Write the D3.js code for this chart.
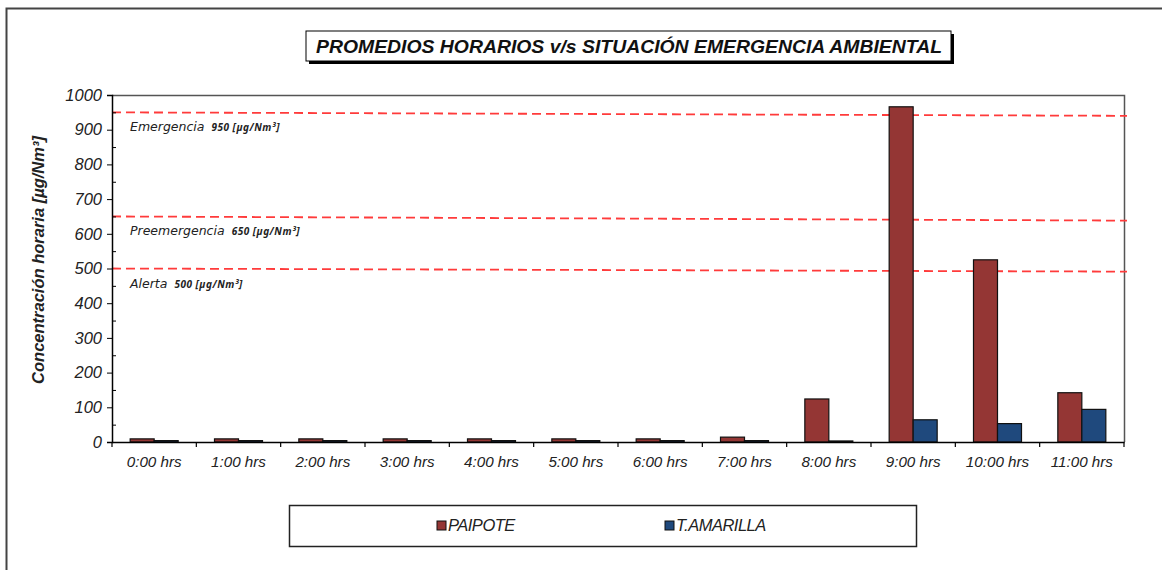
<!DOCTYPE html>
<html><head><meta charset="utf-8">
<script src="https://cdn.jsdelivr.net/npm/d3@7"></script>
<style>body{margin:0;background:#fff}svg{display:block}</style>
</head><body>
<svg id="c" width="1162" height="570"></svg>
<script>
const categories = ["0:00 hrs","1:00 hrs","2:00 hrs","3:00 hrs","4:00 hrs","5:00 hrs","6:00 hrs","7:00 hrs","8:00 hrs","9:00 hrs","10:00 hrs","11:00 hrs"];
const seriesNames = ["PAIPOTE","T.AMARILLA"];
const paipote = [9, 9, 9, 9, 9, 9, 9, 14, 124, 966, 525, 142];
const tamarilla = [4, 4, 4, 4, 4, 4, 4, 4, 3, 64, 53, 94];
const seriesColors = ["#943634","#1F497D"];
const yTicks = [0,100,200,300,400,500,600,700,800,900,1000];
const thresholdNames = ["Emergencia","Preemergencia","Alerta"];
const thresholdValues = [950, 650, 500];
const thresholdEndValues = [940, 638, 491];
const titleText = "PROMEDIOS HORARIOS v/s SITUACIÓN EMERGENCIA AMBIENTAL";
const yLabel = "Concentración horaria [µg/Nm³]";

const svg = d3.select("#c");
const L = 112, R = 1124, T = 95, B = 442;
const font = "'Liberation Sans', Arial, sans-serif";

// outer border (left + top)
svg.append("path").attr("d","M6.5,570 V8.5 H1162").attr("fill","none").attr("stroke","#444").attr("stroke-width",2);

const x = d3.scaleBand().domain(categories).range([L,R]).padding(0);
const y = d3.scaleLinear().domain([0,1000]).range([B,T]);

// plot border top/right
svg.append("path").attr("d",`M${L},${T+0.5} H${R+0.5} V${B}`).attr("fill","none").attr("stroke","#555").attr("stroke-width",1.5);

// threshold lines
thresholdValues.forEach((v,i)=>{
  svg.append("line").attr("x1",L).attr("x2",R+3)
    .attr("y1",y(v)).attr("y2",y(thresholdEndValues[i]))
    .attr("stroke","#ff3b3b").attr("stroke-width",1.8).attr("stroke-dasharray","9,5");
  const t = svg.append("text").attr("x",130).attr("y",y(v)+19)
    .attr("font-family","'DejaVu Sans', sans-serif").attr("font-style","italic")
    .attr("font-size",12.5).attr("fill","#222");
  t.append("tspan").text(thresholdNames[i]);
  t.append("tspan").attr("dx",7).attr("font-family","'Noto Sans', sans-serif").attr("font-weight","bold")
    .attr("font-size",10).attr("letter-spacing",0.5).text(v+" [µg/Nm³]");
});

// bars
const bw = 24;
const data = categories.map((c,i)=>({c, vals:[paipote[i], tamarilla[i]]}));
const g = svg.append("g");
data.forEach(d=>{
  const cx = x(d.c) + x.bandwidth()/2;
  d.vals.forEach((v,k)=>{
    g.append("rect").attr("x", cx - bw + k*bw).attr("y", y(v)).attr("width", bw).attr("height", B - y(v))
      .attr("fill", seriesColors[k]).attr("stroke","#111").attr("stroke-width",1.2);
  });
});

// y axis
const yAxis = d3.axisLeft(y).tickValues(yTicks).tickSize(5).tickPadding(5).tickFormat(d3.format("d"));
const ya = svg.append("g").attr("transform",`translate(${L},0)`).call(yAxis);
ya.select(".domain").attr("stroke","#000").attr("stroke-width",1.5);
ya.selectAll("text").attr("font-family",font).attr("font-style","italic").attr("font-size",16.5).attr("fill","#222");
// minor ticks
const minor = d3.range(50,1000,100);
svg.append("g").attr("transform",`translate(${L},0)`).call(d3.axisRight(y).tickValues(minor).tickSize(4).tickFormat(""))
  .call(s=>s.select(".domain").remove());

// x axis
const xa = svg.append("g").attr("transform",`translate(0,${B})`).call(d3.axisBottom(x).tickSize(0).tickPadding(14));
xa.select(".domain").attr("stroke","#000").attr("stroke-width",1.5);
xa.selectAll("text").attr("font-family",font).attr("font-style","italic").attr("font-size",15.2).attr("fill","#222");
svg.append("g").selectAll("line").data(categories.concat(["end"])).join("line")
  .attr("x1",(d,i)=> i<categories.length ? x(d) : R).attr("x2",(d,i)=> i<categories.length ? x(d) : R)
  .attr("y1",B).attr("y2",B+5).attr("stroke","#000").attr("stroke-width",1.2);

// y label
svg.append("text").attr("transform","translate(44,260) rotate(-90)").attr("text-anchor","middle")
  .attr("font-family",font).attr("font-style","italic").attr("font-weight","bold").attr("font-size",16.5).attr("fill","#222")
  .text(yLabel);

// title box with shadow
svg.append("rect").attr("x",309).attr("y",34).attr("width",645).attr("height",30).attr("fill","#000");
svg.append("rect").attr("x",306).attr("y",31).attr("width",645).attr("height",30).attr("fill","#fff").attr("stroke","#000").attr("stroke-width",1);
svg.append("text").attr("x",629).attr("y",53).attr("text-anchor","middle")
  .attr("font-family",font).attr("font-style","italic").attr("font-weight","bold").attr("font-size",19).attr("fill","#111")
  .attr("textLength",626).attr("lengthAdjust","spacingAndGlyphs")
  .text(titleText);

// legend
svg.append("rect").attr("x",289.5).attr("y",505.5).attr("width",627).attr("height",41).attr("fill","#fff").attr("stroke","#222").attr("stroke-width",1.5);
const legX = [437, 665];
seriesNames.forEach((n,k)=>{
  svg.append("rect").attr("x",legX[k]).attr("y",521).attr("width",9).attr("height",9).attr("fill",seriesColors[k]).attr("stroke","#111").attr("stroke-width",1);
  svg.append("text").attr("x",legX[k]+11).attr("y",531).attr("font-family",font).attr("font-style","italic")
    .attr("font-size",16.5).attr("letter-spacing",-0.5).attr("fill","#222").text(n);
});
</script>
</body></html>
